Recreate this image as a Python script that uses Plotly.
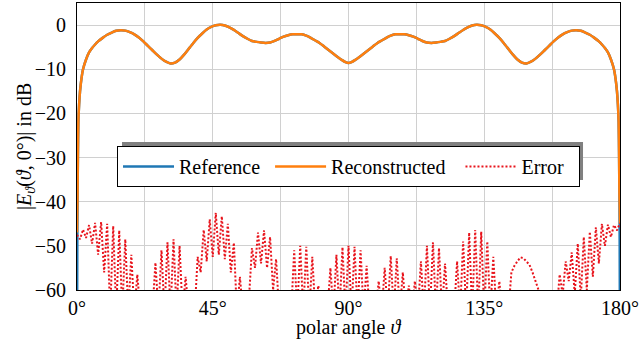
import numpy as np
import plotly.graph_objects as go

# angulos (grados) y valores del patron en dB
theta = [0, 0.1, 0.2, 0.3, 0.45, 0.7, 1, 1.5, 2, 3, 4, 5, 6, 7, 8.5, 10, 11.5, 13, 14.5, 16,
         17.5, 19, 20.5, 22, 23.5, 25, 26.5, 28, 29.5, 31, 32.5, 34, 35.5, 37, 38.5, 40, 41.5,
         43, 44.5, 46, 47.5, 49, 50.5, 52, 53.5, 55, 56.5, 58, 59.5, 61, 62.5, 64, 65.5, 67,
         68.5, 70, 71.5, 73, 74.5, 76, 77.5, 79, 80.5, 82, 83.5, 85, 86.5, 88, 89, 90,
         91, 92, 93.5, 95, 96.5, 98, 99.5, 101, 102.5, 104, 105.5, 107, 108.5, 110, 111.5, 113,
         114.5, 116, 117.5, 119, 120.5, 122, 123.5, 125, 126.5, 128, 129.5, 131, 132.5, 134,
         135.5, 137, 138.5, 140, 141.5, 143, 144.5, 146, 147.5, 149, 150.5, 152, 153.5, 155,
         156.5, 158, 159.5, 161, 162.5, 164, 165.5, 167, 168.5, 170, 171.5, 173, 174, 175, 176,
         177, 178, 178.5, 179, 179.3, 179.55, 179.7, 179.8, 179.9, 180]

ref_db = [-75, -50, -38, -30, -22, -18, -15, -12, -10, -7.8, -6.2, -5.2, -4.4, -3.7, -2.9, -2.2,
          -1.7, -1.3, -1.15, -1.25, -1.6, -2.1, -2.8, -3.7, -4.7, -5.7, -6.7, -7.6, -8.3, -8.7,
          -8.5, -7.8, -6.7, -5.4, -4.1, -2.9, -1.9, -1.0, -0.4, -0.05, 0.05, -0.1, -0.5, -1.1,
          -1.8, -2.5, -3.1, -3.6, -3.8, -3.95, -4.05, -3.95, -3.6, -3.1, -2.6, -2.3, -2.1, -2.05,
          -2.1, -2.4, -2.9, -3.5, -4.1, -4.9, -5.7, -6.5, -7.3, -8.0, -8.4, -8.6,
          -8.4, -8.0, -7.3, -6.5, -5.7, -4.9, -4.1, -3.5, -2.9, -2.4, -2.1, -2.05, -2.1, -2.3,
          -2.6, -3.1, -3.6, -3.95, -4.05, -3.95, -3.8, -3.6, -3.1, -2.5, -1.8, -1.1, -0.5, -0.1,
          0.05, -0.05, -0.4, -1.0, -1.9, -2.9, -4.1, -5.4, -6.7, -7.8, -8.5, -8.7, -8.3, -7.6,
          -6.7, -5.7, -4.7, -3.7, -2.8, -2.1, -1.6, -1.25, -1.15, -1.3, -1.7, -2.2, -2.9, -3.7,
          -4.4, -5.2, -6.2, -7.8, -10, -12, -15, -18, -22, -30, -38, -50, -75]

# la reconstruccion solo difiere en los extremos
recon_left = [-47, -42]
recon_right = [-41, -45]

# error: maximos (cada 2 grados, 0..180) y minimos intermedios (1..179)
err_top = [-47.5, -46.3, -45.3, -44.8, -44.6, -45, -45.5, -46.5, -48.5, -52,
           -56.5, -61, -61, -53.8, -51, -49.2, -48.5, -50, -57, -61,
           -52.5, -46.4, -44, -42.5, -43.3, -45, -49.3, -57, -61, -50.5,
           -47, -46.5, -48, -53, -61, -61, -51, -50, -50.2, -52.5,
           -59, -61, -55, -52, -50.3, -50, -50.2, -51, -54.5, -61,
           -58, -55, -52.3, -52.8, -56, -59, -58, -53.5, -50, -49.2,
           -50.5, -54, -61, -53.5, -49, -47, -46.4, -46.8, -49, -52.5,
           -58, -61, -56, -53.5, -52.8, -54.3, -58, -61, -61, -61,
           -56.5, -53.5, -51.5, -49.5, -48, -46.8, -45.8, -45, -45.2, -45.3,
           -44.8]
err_low = ([-48.5, -48.2, -49.5, -52, -56, -65, -65, -65, -65, -65]
           + [-65] * 10
           + [-56, -53.5, -52.5, -52, -53, -56, -65, -65, -62, -55]
           + [-54, -55, -60, -65, -65, -65, -65, -65, -65, -65]
           + [-65] * 30
           + [-65, -65, -54.5, -52.6, -53.5, -56, -60, -65, -65, -65]
           + [-61, -58, -61, -62, -60, -57, -54, -50, -48, -46.5])

x_ticks = [0, 22.5, 45, 67.5, 90, 112.5, 135, 157.5, 180]
x_labels = ['0°', '', '45°', '', '90°', '', '135°', '', '180°']
y_ticks = [0, -10, -20, -30, -40, -50, -60]

recon_db = list(ref_db)
recon_db[:2] = recon_left
recon_db[-2:] = recon_right

err_theta_top = np.arange(0, 180.01, 2.0)
err_theta = np.empty(2 * len(err_top) - 1)
err_theta[0::2] = err_theta_top
err_theta[1::2] = err_theta_top[:-1] + 1.0
err_db = np.empty(len(err_theta))
err_db[0::2] = err_top
err_db[1::2] = err_low

fuente = 'Liberation Serif, Times New Roman, serif'
nb = '\u00a0'  # espacios para separar las entradas de la leyenda

fig = go.Figure()
fig.add_trace(go.Scatter(x=theta, y=ref_db, name='Reference' + nb, mode='lines',
                         line=dict(color='#1f77b4', width=2.5, shape='spline', smoothing=0.6)))
fig.add_trace(go.Scatter(x=theta, y=recon_db, name='Reconstructed' + nb * 2, mode='lines',
                         line=dict(color='#ff7f0e', width=2.5, shape='spline', smoothing=0.6)))
fig.add_trace(go.Scatter(x=err_theta, y=err_db, name='Error' + nb * 2, mode='lines',
                         line=dict(color='#e8141c', width=2, dash='2px,2px')))

# sombra de la leyenda
fig.add_shape(type='rect', xref='paper', yref='paper',
              x0=0.0829, x1=0.9319, y0=0.3833, y1=0.5157,
              fillcolor='#808080', line=dict(width=0), layer='above')

# titulos de ejes como anotaciones
fig.add_annotation(text='polar angle <i>ϑ</i>', xref='paper', yref='paper',
                   x=0.5, y=-0.132, xanchor='center', yanchor='middle', showarrow=False,
                   font=dict(family=fuente, size=20))
fig.add_annotation(text='|<i>E</i><sub><i>ϑ</i></sub>(<i>ϑ</i>, 0°)| in dB', xref='paper', yref='paper',
                   x=-0.095, y=0.5, xanchor='center', yanchor='middle', showarrow=False,
                   textangle=-90, font=dict(family=fuente, size=20))

fig.update_layout(
    width=640, height=347,
    margin=dict(l=77, r=20, t=3, b=57),
    plot_bgcolor='white', paper_bgcolor='white',
    font=dict(family=fuente, size=20, color='black'),
    showlegend=True,
    legend=dict(orientation='h', x=0.0737, y=0.502, xanchor='left', yanchor='top',
                bgcolor='white', bordercolor='black', borderwidth=1, itemwidth=51,
                font=dict(family=fuente, size=20)),
)
fig.update_xaxes(range=[0, 180], tickvals=x_ticks, ticktext=x_labels, automargin=False,
                 showline=True, linecolor='black', linewidth=1, mirror=True,
                 gridcolor='#d0d0d0', zeroline=False)
fig.update_yaxes(range=[-60, 5], tickvals=y_ticks, automargin=False,
                 showline=True, linecolor='black', linewidth=1, mirror=True,
                 gridcolor='#d0d0d0', zeroline=False, ticklabelstandoff=6)

# quitar el margen del body para que la figura quede en (0, 0)
fig.write_html("out.html", config={'displayModeBar': False},
               post_script="document.body.style.margin='0px';")
